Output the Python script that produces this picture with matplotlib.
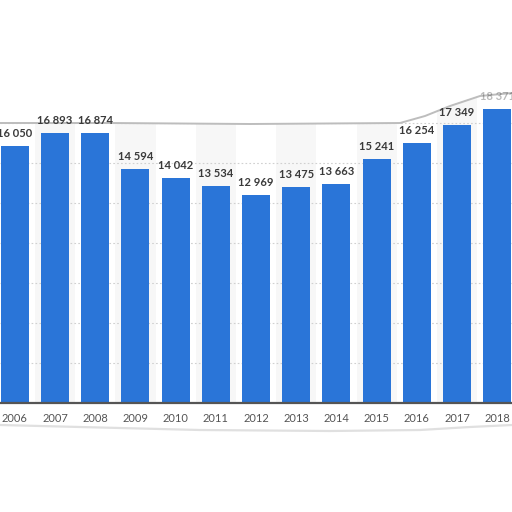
import matplotlib
matplotlib.use("Agg")
import matplotlib.pyplot as plt
from matplotlib.patches import Polygon

years = ["2006", "2007", "2008", "2009", "2010", "2011", "2012",
         "2013", "2014", "2015", "2016", "2017", "2018"]
values = [16050, 16893, 16874, 14594, 14042, 13534, 12969,
          13475, 13663, 15241, 16254, 17349, 18371]
grid_values = [2500, 5000, 7500, 10000, 12500, 15000, 17500]

W = H = 512
fig = plt.figure(figsize=(5.12, 5.12), dpi=100)
fig.patch.set_facecolor("white")

base_px = 403          # baseline row (from top)
px_per_unit = 0.016
step_px = 40.2
first_center_px = 14.8

ax = fig.add_axes([0, (H - base_px) / H, 1, base_px / H])
ax.set_facecolor("white")
ax.set_xlim(-first_center_px / step_px, (W - first_center_px) / step_px)
ax.set_ylim(0, base_px / px_per_unit)

x = list(range(len(years)))
for i in x:
    if i % 2 == 1:
        ax.axvspan(i - 0.5, i + 0.5, color="#f7f7f7", zorder=0, lw=0)
for g in grid_values:
    ax.axhline(g, color="#d0d0d0", lw=0.8, ls=(0, (1.5, 2)), zorder=1)

ax.bar(x, values, width=0.70, color="#2a75d8", zorder=2)

for i, v in enumerate(values):
    ax.annotate(f"{v:,}".replace(",", " "), (i, v), xytext=(0, 9),
                textcoords="offset points", ha="center", va="center",
                fontsize=8, fontweight="bold", family="Lato",
                color="#3a3a3a", alpha=0.35 if i == len(values) - 1 else 1,
                zorder=6)

ax.set_xticks(x)
ax.set_xticklabels(years, family="Lato", fontsize=8, color="#555555")
ax.tick_params(axis="x", length=0, pad=7)
ax.set_yticks([])
for s in ["top", "left", "right"]:
    ax.spines[s].set_visible(False)
ax.spines["bottom"].set_color("#555555")
ax.spines["bottom"].set_linewidth(1.6)
ax.spines["bottom"].set_zorder(3)

# torn-paper edges (decorative)
def fpt(px, py):
    return (px / W, 1 - py / H)

top_edge = [(0, 123), (110, 123), (250, 124), (400, 123),
            (425, 116), (450, 106), (480, 96), (512, 93)]
top_poly = [fpt(0, 0)] + [fpt(a, b) for a, b in top_edge] + [fpt(512, 0)]
ax.add_patch(Polygon(top_poly, closed=True, transform=fig.transFigure,
                     facecolor="white", edgecolor="none", zorder=4,
                     clip_on=False))
ax.plot([fpt(a, b)[0] for a, b in top_edge], [fpt(a, b)[1] for a, b in top_edge],
        transform=fig.transFigure, color="#bdbdbd", lw=1.4, zorder=4.5,
        clip_on=False)

bot_edge = [(0, 425), (80, 427), (200, 430), (330, 431), (420, 430),
            (470, 427), (512, 425)]
ax.plot([fpt(a, b)[0] for a, b in bot_edge], [fpt(a, b)[1] for a, b in bot_edge],
        transform=fig.transFigure, color="#e0e0e0", lw=1.6, zorder=4.5,
        clip_on=False)

fig.savefig("out.png", dpi=100, facecolor="white")
